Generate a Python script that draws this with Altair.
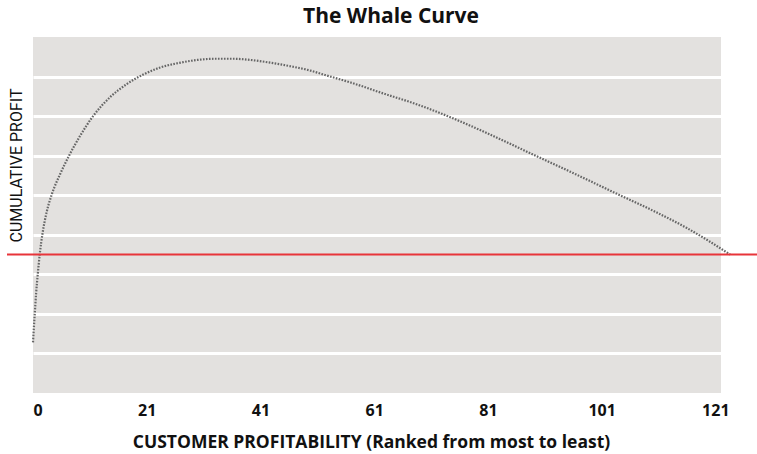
import altair as alt
import pandas as pd

# Whale curve: cumulative profit against customers ranked from most to least profitable
rank = [0.0, 0.30, 0.56, 0.85, 1.18, 1.67, 2.38, 3.35, 4.76, 6.34, 8.28, 10.57,
        13.57, 16.39, 19.38, 22.38, 25.55, 28.9, 32.07, 35.24, 38.24, 41.76,
        45.29, 48.81, 51.1, 55.86, 61.67, 67.67, 71.89, 80.0, 87.93, 95.15,
        102.2, 109.6, 115.0, 119.0, 122.6]
cum_profit = [-222, -152, -96, -48, 0, 53, 106, 154, 203, 250, 300, 350,
              398, 430, 455, 473, 484, 492, 495, 495, 492, 485,
              476, 465, 455, 435, 407, 379, 356, 306, 253, 205,
              157, 107, 67, 33, 0]

# x-axis tick positions and the labels printed under them
tick_pos = [0, 20, 40, 60, 80, 100, 120]
tick_labels = ["0", "21", "41", "61", "81", "101", "121"]

# horizontal band boundaries drawn as white grid lines
grid_values = [-250, -150, -50, 50, 150, 250, 350, 450]
break_even = [0]

W, H = 688, 356

curve_df = pd.DataFrame({"rank": rank, "profit": cum_profit})
zero_df = pd.DataFrame({"profit": break_even})

label_expr = "[{}][indexof([{}], datum.value)]".format(
    ",".join("'%s'" % t for t in tick_labels), ",".join(str(p) for p in tick_pos)
)

x_scale = alt.Scale(domain=[0, 121], nice=False, zero=False)
y_scale = alt.Scale(domain=[-350, 550], nice=False, zero=False)

curve = alt.Chart(curve_df).mark_line(
    interpolate="monotone",
    color="#666666",
    strokeWidth=2.2,
    strokeDash=[1.6, 1.4],
    clip=False,
).encode(
    x=alt.X(
        "rank:Q",
        scale=x_scale,
        axis=alt.Axis(
            values=tick_pos,
            labelExpr=label_expr,
            grid=False,
            ticks=False,
            domain=False,
            labelFont="Open Sans",
            labelFontWeight="bold",
            labelFontSize=16,
            labelColor="#111111",
            labelPadding=9,
            title="CUSTOMER PROFITABILITY (Ranked from most to least)",
            titleFont="Open Sans",
            titleFontWeight="bold",
            titleFontSize=17.5,
            titleColor="#111111",
            titleX=338,
            titleY=54,
            titleBaseline="alphabetic",
            titleAlign="center",
        ),
    ),
    y=alt.Y(
        "profit:Q",
        scale=y_scale,
        axis=alt.Axis(
            values=grid_values,
            labels=False,
            ticks=False,
            domain=False,
            grid=True,
            gridColor="#ffffff",
            gridWidth=3,
            gridOpacity=1,
            title="CUMULATIVE PROFIT",
            titleFont="Roboto",
            titleFontWeight="normal",
            titleFontSize=16,
            titleColor="#111111",
            titleAngle=-90,
            titleX=-17,
            titleY=128,
            titleAlign="center",
            titleBaseline="middle",
        ),
    ),
)

zero_line = alt.Chart(zero_df).mark_rule(
    color="#e8343a", strokeWidth=2, clip=False
).encode(
    y=alt.Y("profit:Q", scale=y_scale),
    x=alt.value(-26),
    x2=alt.value(724),
)

chart = (
    alt.layer(curve, zero_line)
    .properties(
        width=W,
        height=H,
        autosize=alt.AutoSizeParams(type="none"),
        padding={"left": 33, "top": 37, "right": 36, "bottom": 61},
        background="#ffffff",
        title=alt.TitleParams(
            "The Whale Curve",
            font="Open Sans",
            fontWeight="bold",
            fontSize=21,
            color="#111111",
            anchor="middle",
            dx=14,
            offset=10,
        ),
    )
    .configure_view(fill="#e3e1df", stroke=None)
)

chart.save("out.html", embed_options={"renderer": "svg", "actions": False})
